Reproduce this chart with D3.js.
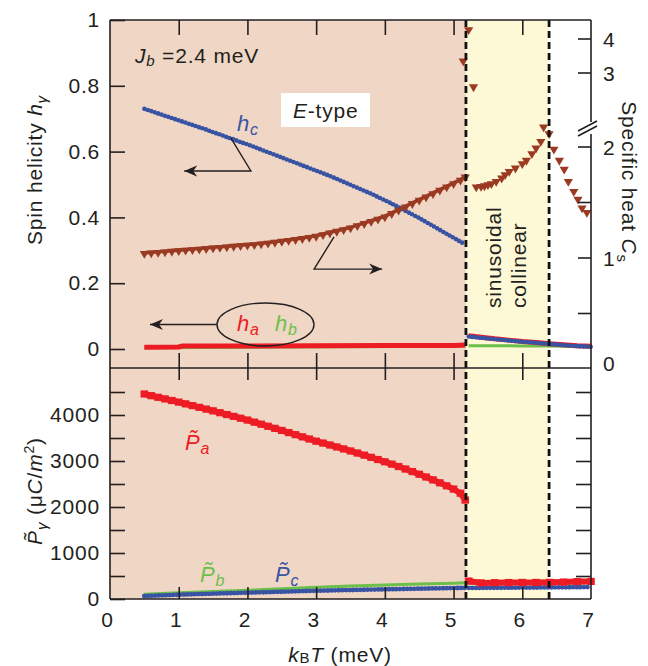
<!DOCTYPE html>
<html>
<head>
<meta charset="utf-8">
<script src="https://cdn.jsdelivr.net/npm/d3@7"></script>
<style>
body { margin: 0; background: #fff; }
text { font-family: "Liberation Sans", Arial, Helvetica, sans-serif; font-size: 21px; fill: #231f20; letter-spacing: 0.8px; }
.it { font-style: italic; }
</style>
</head>
<body>
<svg id="chart" width="648" height="666"></svg>
<script>
// ---- data ----
// E-type region, top + bottom panels
var tE = [0.5,0.6,0.7,0.8,0.9,1.0,1.1,1.2,1.3,1.4,1.5,1.6,1.7,1.8,1.9,2.0,2.1,2.2,2.3,2.4,
          2.5,2.6,2.7,2.8,2.9,3.0,3.1,3.2,3.3,3.4,3.5,3.6,3.7,3.8,3.9,4.0,4.1,4.2,4.3,4.4,
          4.5,4.6,4.7,4.8,4.9,5.0,5.1,5.17];
var hcE = [.730,.723,.716,.709,.702,.695,.688,.681,.674,.667,.659,.652,.644,.637,.629,.622,.614,.606,.598,.590,
           .582,.574,.566,.558,.550,.542,.534,.526,.517,.508,.499,.490,.481,.472,.462,.452,.442,.431,.420,.409,
           .398,.386,.374,.362,.350,.338,.326,.318];
var csE = [1.030,1.035,1.040,1.045,1.050,1.055,1.060,1.065,1.070,1.075,1.080,1.085,1.090,1.095,1.100,1.105,1.110,1.117,1.124,1.131,
           1.140,1.148,1.156,1.165,1.175,1.185,1.200,1.215,1.230,1.245,1.260,1.280,1.300,1.320,1.340,1.360,1.390,1.420,1.450,1.480,
           1.510,1.540,1.570,1.600,1.630,1.660,1.690,1.720];
var paE = [4457,4420,4385,4350,4315,4280,4242,4204,4166,4128,4090,4050,4010,3970,3930,3890,3845,3800,3755,3710,
           3664,3618,3572,3525,3478,3430,3390,3348,3305,3262,3218,3173,3127,3080,3032,2983,2932,2880,2826,2770,
           2712,2652,2590,2526,2460,2390,2300,2150];

var tHa = [0.5,1.0,1.05,2.0,3.0,4.0,5.0,5.17];
var haE = [0.005,0.006,0.009,0.009,0.010,0.011,0.011,0.012];
var tHb = [0.5,2.5,5.17];
var hbE = [0.004,0.006,0.008];

var tP = [0.5,1.0,1.5,2.0,2.5,3.0,3.5,4.0,4.5,5.0,5.17];
var pbE = [105,135,162,190,222,255,280,305,325,345,355];
var pcE = [65,94,116,137,158,180,195,210,224,238,242];

// sinusoidal collinear + paramagnetic side
var tS = [5.22,5.4,5.6,5.8,6.0,6.2,6.4,6.6,6.8,7.0];
var hcS = [0.038,0.034,0.030,0.026,0.022,0.019,0.015,0.012,0.009,0.007];
var haS = [0.040,0.036,0.031,0.027,0.023,0.020,0.016,0.013,0.010,0.008];
var hbS = [0.010,0.010,0.010,0.010,0.009,0.009,0.009,0.008,0.007,0.006];
var paS = [390,350,355,358,360,360,362,368,378,382];
var pbS = [345,340,338,336,335,335,335,338,345,350];
var pcS = [240,242,244,246,248,250,252,254,257,260];

var tCsS = [5.14,5.22,5.29,5.33,5.40,5.45,5.50,5.55,5.62,5.70,5.75,5.81,5.90,
            6.00,6.06,6.14,6.20,6.27,6.31,6.39,6.46,6.54,6.61,6.67,6.75,6.81,6.87,6.94];
var csS = [3.32,4.24,2.56,1.63,1.635,1.64,1.65,1.66,1.68,1.71,1.74,1.77,1.80,
           1.84,1.87,1.93,1.98,2.04,2.17,2.11,1.97,1.87,1.79,1.68,1.59,1.52,1.44,1.40];

var tN1 = 5.18, tN2 = 6.39;   // phase boundaries
var xTicks = [0,1,2,3,4,5,6,7];
var hTicks = [0,0.2,0.4,0.6,0.8,1];
var pTicks = [0,500,1000,1500,2000,2500,3000,3500,4000,4500];
var pLabels = [0,1000,2000,3000,4000];
var csTicksLo = [0.5,1,1.5,2], csTicksHi = [3,4];
var csLabels = [0,1,2,3,4];

var RED = "#ed1c24", BLUE = "#3953a4", GREEN = "#6cbf4a", BROWN = "#9b3a22", INK = "#231f20";

// ---- scales ----
var svg = d3.select("#chart");
var x = d3.scaleLinear().domain([0, 7]).range([110, 591]);
var yH = d3.scaleLinear().domain([0, 1]).range([349, 20]);
var csLo = d3.scaleLinear().domain([0, 2]).range([369, 147]);
var csHi = d3.scaleLinear().domain([3, 4]).range([73, 39]);
var yP = d3.scaleLinear().domain([0, 5000]).range([599, 369]);
function csY(v) { return v > 2.3 ? csHi(v) : csLo(v); }

var top0 = 20, mid = 368, bot = 599, left = 110, right = 591;

// ---- background regions ----
svg.append("rect").attr("x", x(0)).attr("y", top0).attr("width", x(tN1) - x(0)).attr("height", bot - top0).attr("fill", "#f0d6c4");
svg.append("rect").attr("x", x(tN1)).attr("y", top0).attr("width", x(tN2) - x(tN1)).attr("height", bot - top0).attr("fill", "#fdf8d5");

function zipXY(ts, vs) { return ts.map(function(t, i) { return [t, vs[i]]; }); }

// ---- top panel series ----
var lineH = d3.line().x(function(d) { return x(d[0]); }).y(function(d) { return yH(d[1]); });

[zipXY(tHb, hbE), zipXY(tS, hbS)].forEach(function(d) {
  svg.append("path").datum(d).attr("d", lineH).attr("fill", "none").attr("stroke", GREEN).attr("stroke-width", 3);
});
[zipXY(tHa, haE), zipXY(tS, haS)].forEach(function(d) {
  svg.append("path").datum(d).attr("d", lineH).attr("fill", "none").attr("stroke", RED).attr("stroke-width", 5);
});
[zipXY(tE, hcE), zipXY(tS, hcS)].forEach(function(d) {
  svg.append("path").datum(d).attr("d", lineH).attr("fill", "none").attr("stroke", BLUE)
    .attr("stroke-width", 4.6).attr("stroke-linecap", "round").attr("stroke-dasharray", "0 3.6");
});

// specific heat: dense triangles (band in the E-type range)
var lineCs = d3.line().x(function(d) { return x(d[0]); }).y(function(d) { return csY(d[1]) - 1.8; });
svg.append("path").datum(zipXY(tE, csE)).attr("d", lineCs).attr("fill", "none").attr("stroke", BROWN).attr("stroke-width", 3.6);
var tri = "M-4.6,-3.6L4.6,-3.6L0,4.2Z";
svg.append("g").selectAll("path").data(zipXY(tE, csE).concat(zipXY(tCsS, csS))).enter().append("path")
  .attr("d", tri).attr("fill", BROWN)
  .attr("transform", function(d) { return "translate(" + x(d[0]) + "," + csY(d[1]) + ")"; });

// ---- bottom panel series ----
var lineP = d3.line().x(function(d) { return x(d[0]); }).y(function(d) { return yP(d[1]); });
[zipXY(tP, pbE), zipXY(tS, pbS)].forEach(function(d) {
  svg.append("path").datum(d).attr("d", lineP).attr("fill", "none").attr("stroke", GREEN).attr("stroke-width", 3);
});
[zipXY(tP, pcE), zipXY(tS, pcS)].forEach(function(d) {
  svg.append("path").datum(d).attr("d", lineP).attr("fill", "none").attr("stroke", BLUE)
    .attr("stroke-width", 4.8).attr("stroke-linecap", "round").attr("stroke-dasharray", "0 3.6");
});
[zipXY(tE, paE), zipXY(tS, paS)].forEach(function(d) {
  svg.append("path").datum(d).attr("d", lineP).attr("fill", "none").attr("stroke", RED).attr("stroke-width", 6);
  svg.append("g").selectAll("rect").data(d).enter().append("rect")
    .attr("x", function(p) { return x(p[0]) - 3.8; }).attr("y", function(p) { return yP(p[1]) - 3.6; })
    .attr("width", 7.6).attr("height", 7.2).attr("fill", RED);
});

// ---- phase boundaries ----
[tN1, tN2].forEach(function(t) {
  svg.append("line").attr("x1", x(t)).attr("x2", x(t)).attr("y1", top0).attr("y2", bot)
    .attr("stroke", "#111").attr("stroke-width", 2.8).attr("stroke-dasharray", "7 4");
});

// ---- frame ----
var frame = svg.append("g").attr("stroke", INK).attr("stroke-width", 1.6).attr("fill", "none");
frame.append("line").attr("x1", left).attr("x2", right).attr("y1", top0).attr("y2", top0);
frame.append("line").attr("x1", left).attr("x2", right).attr("y1", mid).attr("y2", mid);
frame.append("line").attr("x1", left).attr("x2", right).attr("y1", bot).attr("y2", bot);
frame.append("line").attr("x1", left).attr("x2", left).attr("y1", top0).attr("y2", bot);
frame.append("line").attr("x1", right).attr("x2", right).attr("y1", top0).attr("y2", 122);
frame.append("line").attr("x1", right).attr("x2", right).attr("y1", 134).attr("y2", bot);
frame.append("line").attr("x1", 578).attr("x2", 597).attr("y1", 131).attr("y2", 121);
frame.append("line").attr("x1", 578).attr("x2", 597).attr("y1", 136).attr("y2", 126);

// ---- axes ----
function clean(g) { g.select(".domain").remove(); g.selectAll("line").attr("stroke", INK).attr("stroke-width", 1.6); g.selectAll("text").attr("font-family", null).attr("font-size", null); }
var inner = [1,2,3,4,5,6];
svg.append("g").attr("transform", "translate(0," + top0 + ")")
  .call(d3.axisTop(x).tickValues(inner).tickSizeInner(-15).tickSizeOuter(0).tickFormat("")).call(clean);
svg.append("g").attr("transform", "translate(0," + mid + ")")
  .call(d3.axisBottom(x).tickValues(inner).tickSizeInner(-15).tickSizeOuter(0).tickFormat("")).call(clean);
svg.append("g").attr("transform", "translate(0," + mid + ")")
  .call(d3.axisTop(x).tickValues(inner).tickSizeInner(-12).tickSizeOuter(0).tickFormat("")).call(clean);
var xa = svg.append("g").attr("transform", "translate(0," + bot + ")")
  .call(d3.axisBottom(x).tickValues(xTicks).tickSizeInner(-12).tickSizeOuter(0).tickPadding(13).tickFormat(d3.format("d"))).call(clean);
xa.selectAll("text").attr("x", -3);
xa.selectAll("line").filter(function(d) { return d === 0 || d === 7; }).remove();

svg.append("g").attr("transform", "translate(" + left + ",0)")
  .call(d3.axisLeft(yH).tickValues(hTicks).tickSizeInner(-15).tickSizeOuter(0).tickPadding(10)
    .tickFormat(function(d) { return d === 0 || d === 1 ? d3.format("d")(d) : d3.format(".1f")(d); })).call(clean);

svg.append("g").attr("transform", "translate(" + left + ",0)")
  .call(d3.axisLeft(yP).tickValues(pTicks).tickSizeInner(-15).tickSizeOuter(0).tickPadding(10)
    .tickFormat(function(d) { return pLabels.indexOf(d) >= 0 ? d : ""; })).call(clean);
svg.append("g").attr("transform", "translate(" + right + ",0)")
  .call(d3.axisRight(yP).tickValues(pTicks.slice(1)).tickSizeInner(-15).tickSizeOuter(0).tickFormat("")).call(clean);

// specific heat axis (broken)
var csG = svg.append("g");
csG.selectAll("line").data(csTicksLo.concat(csTicksHi)).enter().append("line")
  .attr("x1", right - 13).attr("x2", right).attr("y1", csY).attr("y2", csY)
  .attr("stroke", INK).attr("stroke-width", 1.6);
csG.selectAll("text").data(csLabels).enter().append("text")
  .attr("x", 603).attr("y", function(d) { return d === 0 ? csY(d) - 6 : csY(d); }).attr("dy", "0.36em")
  .text(function(d) { return d; });

// ---- axis titles ----
var yl = svg.append("text").attr("transform", "translate(42,170) rotate(-90)").attr("text-anchor", "middle");
yl.append("tspan").text("Spin helicity ");
yl.append("tspan").attr("class", "it").text("h");
yl.append("tspan").attr("class", "it").attr("font-size", 15).attr("dy", 5).text("\u03b3");

var yr = svg.append("text").attr("transform", "translate(622,182) rotate(90)").attr("text-anchor", "middle");
yr.append("tspan").text("Specific heat ");
yr.append("tspan").attr("class", "it").text("C");
yr.append("tspan").attr("font-size", 15).attr("dy", 5).text("s");

var yb = svg.append("text").attr("transform", "translate(42,491) rotate(-90)").attr("text-anchor", "middle");
yb.append("tspan").attr("class", "it").text("P\u0303");
yb.append("tspan").attr("class", "it").attr("font-size", 15).attr("dy", 5).text("\u03b3");
yb.append("tspan").attr("dy", -5).text(" (\u03bc");
yb.append("tspan").attr("class", "it").text("C");
yb.append("tspan").text("/");
yb.append("tspan").attr("class", "it").text("m");
yb.append("tspan").attr("font-size", 14).attr("dy", -8).text("2");
yb.append("tspan").attr("dy", 8).text(")");

var xl = svg.append("text").attr("x", 340).attr("y", 662).attr("text-anchor", "middle");
xl.append("tspan").attr("class", "it").text("k");
xl.append("tspan").attr("font-size", 15).attr("dy", 1).text("B");
xl.append("tspan").attr("class", "it").attr("dy", -1).text("T");
xl.append("tspan").text(" (meV)");

// ---- annotations ----
var jb = svg.append("text").attr("x", 135).attr("y", 63);
jb.append("tspan").attr("class", "it").text("J");
jb.append("tspan").attr("class", "it").attr("font-size", 15).attr("dy", 3).text("b");
jb.append("tspan").attr("dy", -3).text(" =2.4 meV");

svg.append("rect").attr("x", 281).attr("y", 93).attr("width", 89).attr("height", 34).attr("fill", "#fff");
var et = svg.append("text").attr("x", 293).attr("y", 118);
et.append("tspan").attr("class", "it").text("E");
et.append("tspan").text("-type");

function sublabel(px, py, main, sub, col) {
  var t = svg.append("text").attr("x", px).attr("y", py).attr("class", "it").style("fill", col).style("font-size", "22px");
  t.append("tspan").text(main);
  t.append("tspan").attr("font-size", 16).attr("dy", 4).text(sub);
}
sublabel(237, 131, "h", "c", BLUE);
sublabel(237, 331, "h", "a", RED);
sublabel(275, 331, "h", "b", GREEN);
sublabel(185, 450, "P\u0303", "a", RED);
sublabel(200, 582, "P\u0303", "b", GREEN);
sublabel(275, 582, "P\u0303", "c", BLUE);

var sc = svg.append("g");
sc.append("text").attr("transform", "translate(501,308) rotate(-90)").text("sinusoidal");
sc.append("text").attr("transform", "translate(526,308) rotate(-90)").text("collinear");

svg.append("defs").append("marker").attr("id", "ah").attr("markerUnits", "userSpaceOnUse")
  .attr("viewBox", "-13 -6 14 12").attr("refX", 0).attr("refY", 0)
  .attr("markerWidth", 14).attr("markerHeight", 12).attr("orient", "auto")
  .append("path").attr("d", "M0,0L-13,-5.5L-9,0L-13,5.5Z").attr("fill", INK);

var arrowLine = d3.line();
var arrows = [
  [[x(1.76), yH(0.641)], [x(2.05), yH(0.541)], [x(1.08), yH(0.541)]],
  [[x(3.26), csLo(1.19)], [x(2.97), csLo(0.90)], [x(3.96), csLo(0.90)]],
  [[217, 324.5], [150, 324.5]]
];
arrows.forEach(function(a) {
  svg.append("path").attr("d", arrowLine(a)).attr("fill", "none").attr("stroke", INK)
    .attr("stroke-width", 1.4).attr("marker-end", "url(#ah)");
});
svg.append("ellipse").attr("cx", 265.5).attr("cy", 324.5).attr("rx", 48.5).attr("ry", 21.5)
  .attr("fill", "none").attr("stroke", INK).attr("stroke-width", 1.4);
</script>
</body>
</html>
